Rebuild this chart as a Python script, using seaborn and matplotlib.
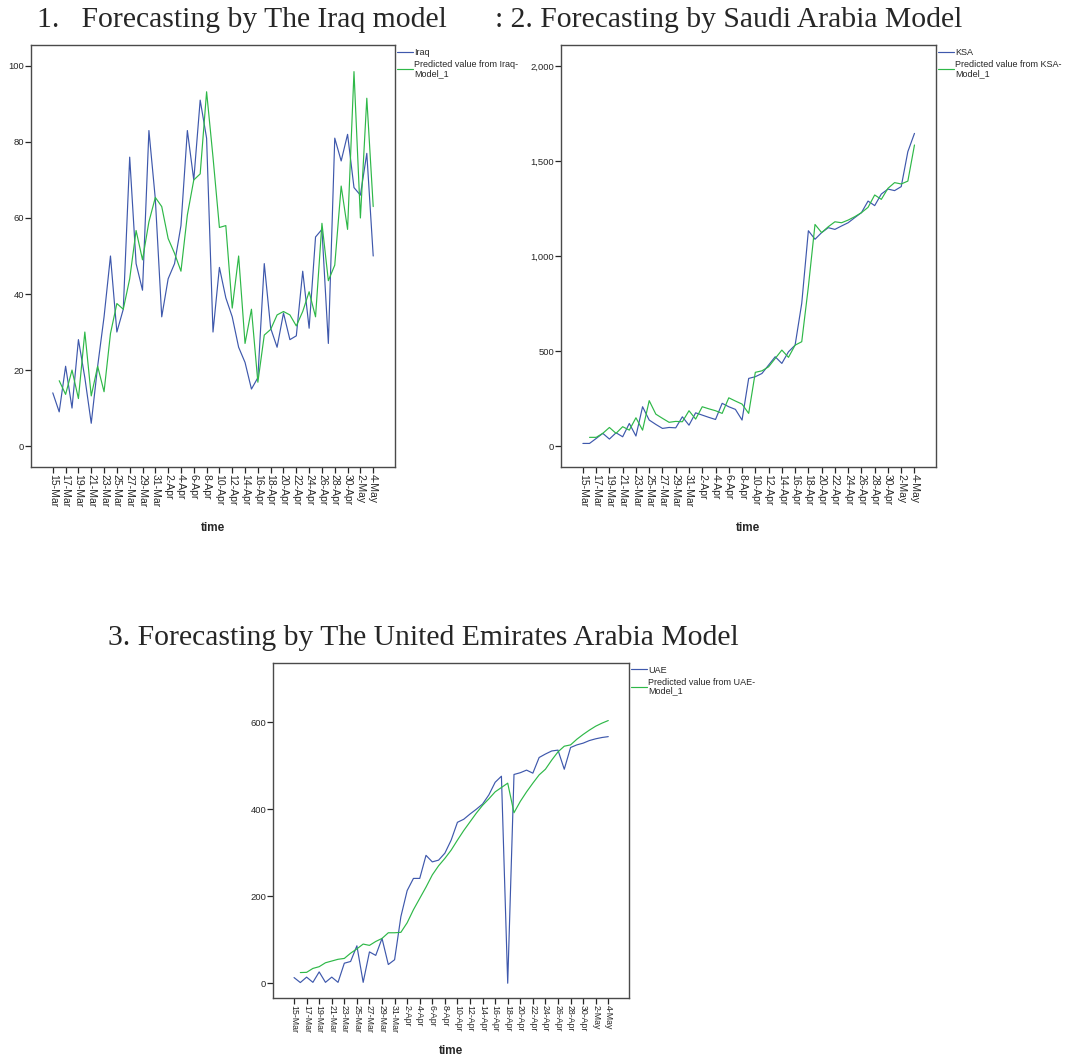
import numpy as np
import pandas as pd
import matplotlib
matplotlib.use("Agg")
import matplotlib.pyplot as plt
from matplotlib.ticker import FuncFormatter
import seaborn as sns

# ---- data -------------------------------------------------------------
dates = pd.date_range("2020-03-15", "2020-05-04", freq="D")
day_labels = [f"{d.day}-{d.strftime('%b')}" for d in dates]

iraq_actual = [14, 9, 21, 10, 28, 18, 6, 21, 34, 50, 30, 36, 76, 48, 41, 83, 65,
               34, 44, 48, 58, 83, 70, 91, 81, 30, 47, 39, 34, 26, 22, 15, 18,
               48, 31, 26, 35, 28, 29, 46, 31, 55, 57, 27, 81, 75, 82, 68, 66,
               77, 50]
iraq_pred = [17.2, 13.6, 20, 12.5, 30, 13.2, 21, 14.3, 29.6, 37.5, 36, 44, 56.7,
             49, 59, 65.4, 63, 54.6, 50.7, 46, 60.8, 70, 71.6, 93.2, 76, 57.5,
             58, 36.3, 50, 27, 36, 16.8, 29.2, 30.7, 34.5, 35.4, 34.5, 31.6,
             35.4, 40.6, 34, 58.6, 43.5, 47.6, 68.4, 57, 98.5, 60, 91.5, 63]

ksa_actual = [14, 14, 40, 67, 37, 70, 49, 119, 53, 207, 137, 114, 93, 98, 96,
              154, 110, 175, 163, 151, 140, 225, 207, 193, 137, 356, 365, 382,
              426, 470, 435, 496, 531, 751, 1133, 1088, 1123, 1149, 1140, 1158,
              1175, 1202, 1228, 1289, 1265, 1326, 1352, 1344, 1365, 1549, 1645]
ksa_pred = [46, 46, 67, 98, 67, 102, 84, 149, 84, 239, 168, 146, 125, 130, 128,
            186, 142, 207, 196, 186, 172, 254, 237, 221, 172, 388, 396, 417,
            461, 505, 467, 531, 549, 838, 1166, 1123, 1154, 1180, 1175, 1189,
            1207, 1228, 1256, 1321, 1298, 1356, 1386, 1379, 1394, 1584]

uae_actual = [13, 1.5, 14, 2, 26, 2, 14, 2, 46, 50, 86, 2, 72, 64, 103, 43, 54,
              153, 213, 241, 241, 294, 279, 283, 299, 329, 370, 377, 389, 400,
              412, 433, 462, 476, 0, 480, 484, 490, 483, 519, 527, 534, 536,
              492, 542, 548, 552, 558, 562, 565, 567]
uae_pred = [24.5, 25, 34, 38, 47, 51, 55, 57, 69, 79, 90, 87, 96, 103, 116, 116,
            117, 139, 169, 195, 221, 249, 270, 287, 306, 329, 351, 371, 391,
            409, 424, 440, 450, 460, 392, 418, 440, 460, 479, 492, 513, 532,
            545, 548, 561, 572, 582, 591, 598, 604]

panels = [
    ("Iraq", "Predicted value from Iraq-\nModel_1", iraq_actual, iraq_pred,
     [0, 20, 40, 60, 80, 100], (-5.5, 105.5)),
    ("KSA", "Predicted value from KSA-\nModel_1", ksa_actual, ksa_pred,
     [0, 500, 1000, 1500, 2000], (-110, 2110)),
    ("UAE", "Predicted value from UAE-\nModel_1", uae_actual, uae_pred,
     [0, 200, 400, 600], (-34, 737)),
]

# ---- style ------------------------------------------------------------
sns.set_style("ticks")
plt.rcParams["font.family"] = ["Liberation Sans", "DejaVu Sans"]
plt.rcParams["axes.edgecolor"] = "#4a4a4a"
plt.rcParams["axes.linewidth"] = 1.0

BLUE = "#3E58AC"
GREEN = "#2EB848"

W, H = 1079, 1057
fig = plt.figure(figsize=(W / 100, H / 100), dpi=100)
fig.patch.set_facecolor("white")

boxes = [
    [31 / W, 1 - 467 / H, 364 / W, 422 / H],
    [561 / W, 1 - 467 / H, 374.7 / W, 422 / H],
    [273.3 / W, 1 - 998 / H, 355.7 / W, 335.3 / H],
]
xlims = [(-3.4, 53.4), (-3.3, 53.2), (-3.3, 53.3)]
xtick_sizes = [7.5, 7.5, 6.3]
xlabel_pads = [11, 11, 8.5]

days = np.arange(len(dates))
for box, xl, xts, lp, (name, pred_name, actual, pred, yt, yl) in zip(
        boxes, xlims, xtick_sizes, xlabel_pads, panels):
    ax = fig.add_axes(box)
    df_a = pd.DataFrame({"day": days, "value": actual})
    df_p = pd.DataFrame({"day": days[1:], "value": pred})
    sns.lineplot(data=df_a, x="day", y="value", ax=ax, color=BLUE,
                 linewidth=0.85, label=name)
    sns.lineplot(data=df_p, x="day", y="value", ax=ax, color=GREEN,
                 linewidth=0.85, label=pred_name)
    ax.set_xlim(*xl)
    ax.set_ylim(*yl)
    ax.set_yticks(yt)
    ax.yaxis.set_major_formatter(FuncFormatter(lambda v, p: f"{v:,.0f}"))
    ax.set_xticks(days[::2])
    ax.set_xticklabels(day_labels[::2], rotation=270, fontsize=xts,
                       va="top", ha="center")
    ax.tick_params(axis="y", labelsize=6.8, length=4, width=0.9, pad=1)
    ax.tick_params(axis="x", length=4, width=0.9, pad=1)
    ax.set_ylabel("")
    ax.set_xlabel("time", fontsize=8.5, fontweight="bold", labelpad=lp)
    for s in ax.spines.values():
        s.set_visible(True)
    leg = ax.legend(loc="upper left", bbox_to_anchor=(1.0, 0.997), frameon=False,
                    fontsize=6.5, handlelength=1.8, handletextpad=0.15,
                    borderaxespad=0.0, borderpad=0.2, labelspacing=0.35)
    for t in leg.get_texts():
        t.set_linespacing(0.95)

serif = ["Liberation Serif", "DejaVu Serif"]
fig.text(37 / W, 1 - 27 / H, "1.   Forecasting by The Iraq model",
         fontsize=21.3, family=serif, va="baseline", ha="left")
fig.text(495 / W, 1 - 27 / H, ": 2. Forecasting by Saudi Arabia Model",
         fontsize=21.3, family=serif, va="baseline", ha="left")
fig.text(108 / W, 1 - 645 / H, "3. Forecasting by The United Emirates Arabia Model",
         fontsize=21.3, family=serif, va="baseline", ha="left")

fig.savefig("out.png", dpi=100, facecolor="white")
